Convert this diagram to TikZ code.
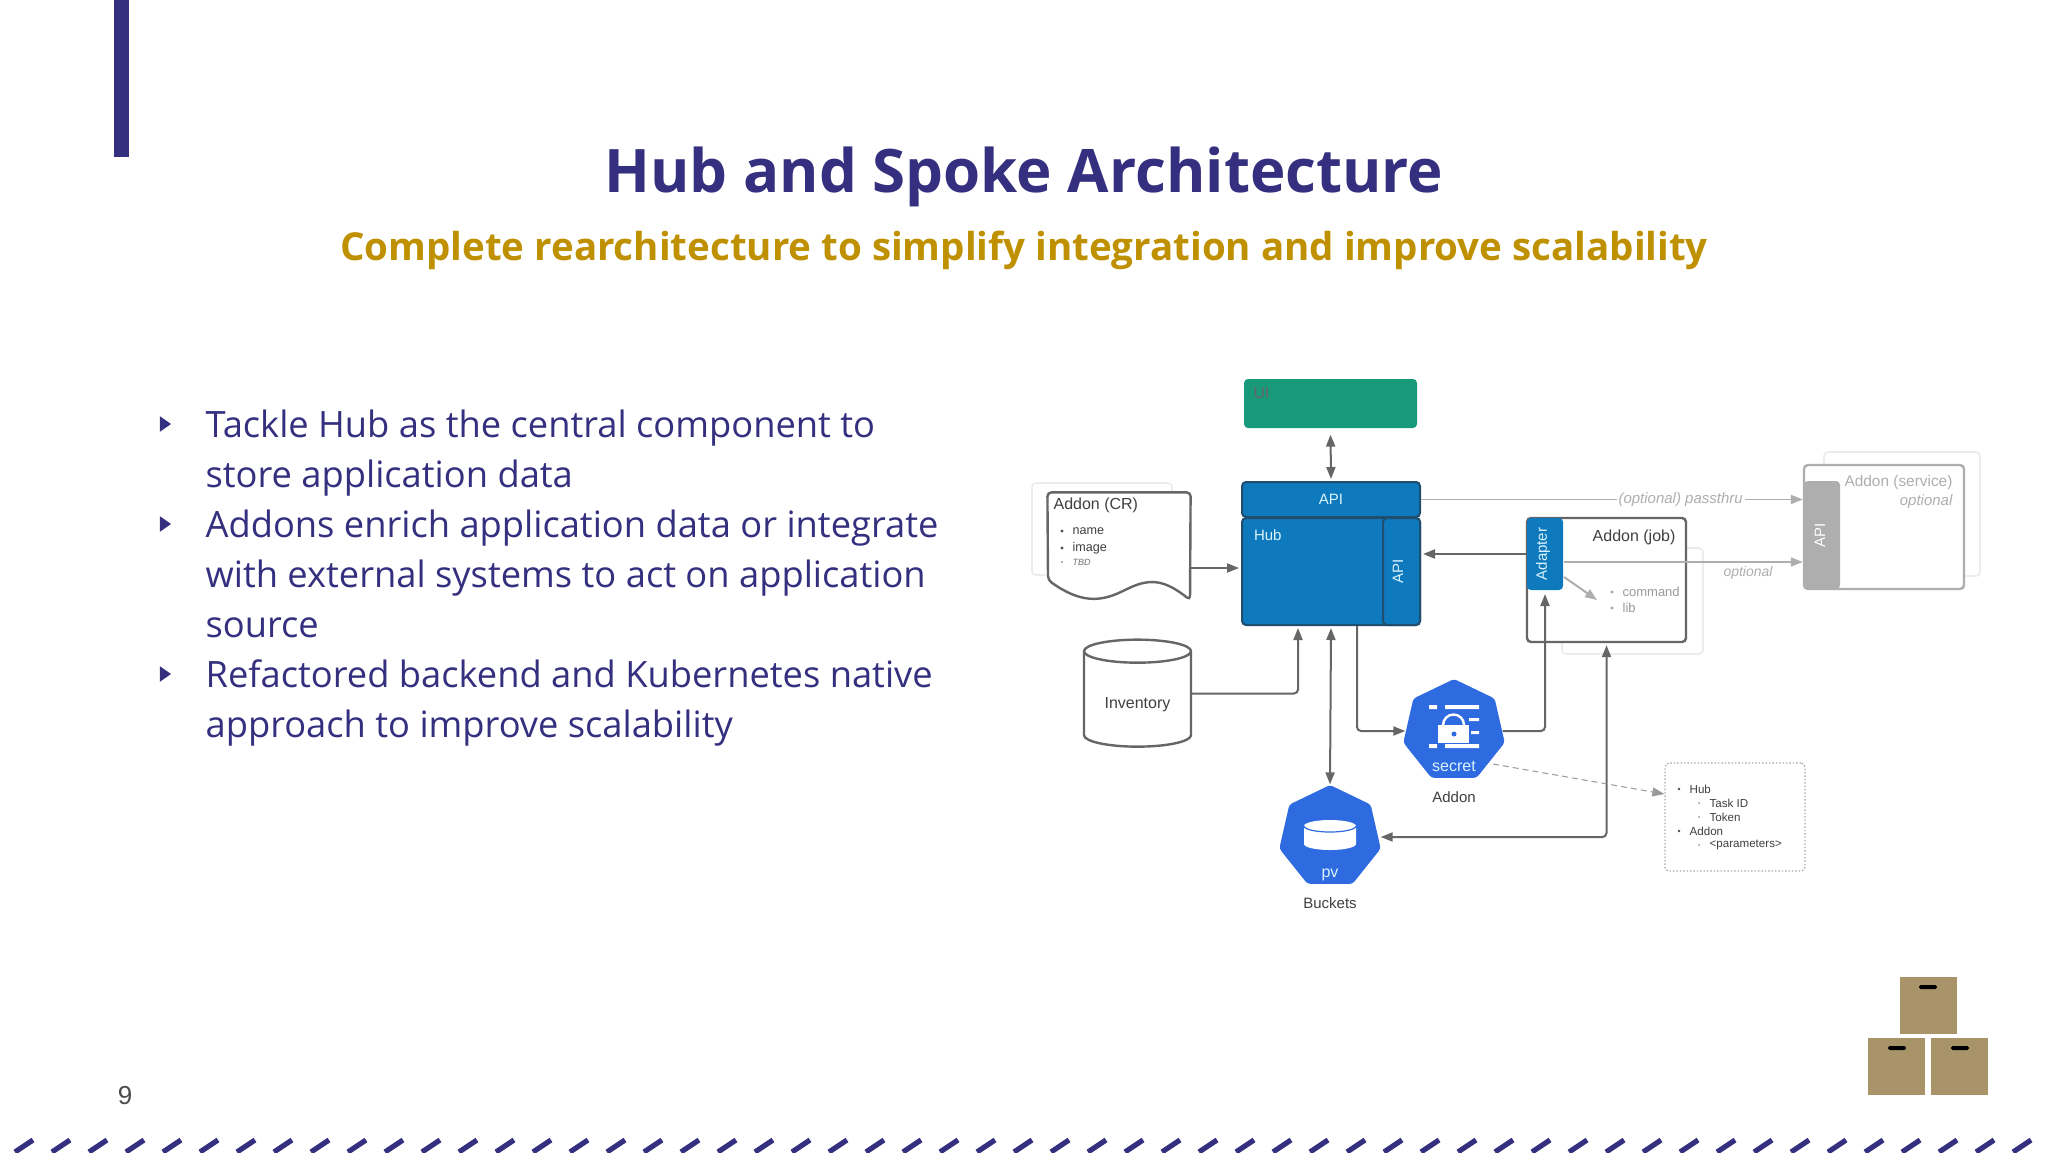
\documentclass[tikz,border=0pt]{standalone}
\usepackage{fontspec}
\setmainfont{Open Sans}
\newfontfamily\diagfont{Liberation Sans}
\usepackage{tikz}
\usetikzlibrary{positioning, calc, shapes, shapes.geometric, arrows, arrows.meta}
\definecolor{slideblue}{HTML}{34307F}
\definecolor{slidegold}{HTML}{BF9000}
\definecolor{hubblue}{HTML}{0F79BD}
\definecolor{hubedge}{HTML}{1F4E6E}
\definecolor{uigreen}{HTML}{18997A}
\definecolor{kubeblue}{HTML}{2F6BE0}
\definecolor{wire}{HTML}{666666}
\definecolor{paleline}{HTML}{AEAEAE}
\definecolor{shadowline}{HTML}{ECECEC}
\definecolor{boxtan}{HTML}{A89468}
\newcommand{\fsz}[1]{\fontsize{#1}{1.2\dimexpr#1\relax}\selectfont}

\begin{document}
\begin{tikzpicture}[x=.5pt,y=-.5pt,>={Stealth[length=6pt,width=4.5pt,inset=0pt]},semithick,
  diag/.style={font=\diagfont\fsz{8pt}, text=black!75, inner sep=0pt},
  bluebox/.style={draw=hubedge, line width=1pt, fill=hubblue, rounded corners=2pt, inner sep=0pt, text=white!85!cyan, font=\diagfont\fsz{7.5pt}},
  addonbox/.style={draw=wire, line width=1.2pt, fill=white, rounded corners=2pt, inner sep=0pt},
  palebox/.style={draw=paleline, line width=1.2pt, fill=white, rounded corners=2pt, inner sep=0pt},
  shadowbox/.style={draw=shadowline, line width=.8pt, rounded corners=2pt, inner sep=0pt, minimum width=70pt},
  kube/.style={regular polygon, regular polygon sides=7, minimum size=52pt, inner sep=0pt, fill=kubeblue, rounded corners=1.5pt},
  kubelabel/.style={diag, text=white!85!cyan},
  wired/.style={color=wire, line width=1pt, rounded corners=2pt},
  paled/.style={color=paleline, line width=.8pt},
  bodytext/.style={anchor=north west, align=left, inner sep=0pt, text=slideblue, font=\fontsize{18.14pt}{25pt}\selectfont},
  tick/.style={isosceles triangle, isosceles triangle apex angle=70, fill=slideblue, inner sep=0pt, minimum height=5.5pt, minimum width=6pt},
  crate/.style={fill=boxtan, inner sep=0pt, minimum width=28.5pt, minimum height=28.5pt},
  cratehandle/.style={fill=black, inner sep=0pt, minimum width=9pt, minimum height=2pt, rounded corners=.8pt},
  ]
  \useasboundingbox[fill=white] (0,0) rectangle (2048,1152);

  % slide furniture
  \node[fill=slideblue, inner sep=0pt, minimum width=7.5pt, minimum height=78.5pt] (bar) at (121.5,78.5) {};
  \node[text=slideblue, inner sep=0pt, font=\bfseries\fsz{30pt}] (title) at (1024,177) {Hub and Spoke Architecture};
  \node[text=slidegold, inner sep=0pt, font=\bfseries\fsz{19.25pt}] (subtitle) at (1024,250) {Complete rearchitecture to simplify integration and improve scalability};
  \node[inner sep=0pt, text=black!70, font=\diagfont\fsz{13pt}] (pageno) at (125,1096) {9};
  \foreach \i in {0,...,55}
    \draw[slideblue, line width=2.6pt] ({15+37*\i},1152) -- ({33+37*\i},1140);

  % bullets
  \node[tick] (tick1) at (164,424) {};
  \node[tick] (tick2) at (164,524) {};
  \node[tick] (tick3) at (164,674) {};
  \node[bodytext] (item1) at (205,409) {Tackle Hub as the central component to\\store application data};
  \node[bodytext] (item2) at (205,509) {Addons enrich application data or integrate\\with external systems to act on application\\source};
  \node[bodytext] (item3) at (205,659) {Refactored backend and Kubernetes native\\approach to improve scalability};

  % diagram boxes
  \node[fill=uigreen, rounded corners=2pt, inner sep=0pt, minimum width=86.5pt, minimum height=24.5pt] (ui) at (1330.5,403.5) {};
  \node[diag, text=black!60, anchor=north west] (uitext) at (1253,387) {UI};
  \node[bluebox, minimum width=89pt, minimum height=17.5pt] (hubapi) at (1331,499.5) {API};
  \node[bluebox, minimum width=89pt, minimum height=53.5pt] (hub) at (1331,571.5) {};
  \node[bluebox, anchor=north west, draw=none, fill=none] (hubtext) at (1253,529) {Hub};
  \node[bluebox, minimum width=18.5pt, minimum height=53.5pt] (hubside) at (1401.5,571.5) {};
  \node[bluebox, draw=none, fill=none, rotate=90] (hubsidetext) at (1398,571) {API};

  \node[shadowbox, minimum width=70pt, minimum height=46pt] (crshadow) at (1102,529) {};
  \node[inner sep=0pt, minimum width=71pt, minimum height=53.5pt] (addoncr) at (1119,546.5) {};
  \draw[addonbox, fill=white] (addoncr.north west) -- (addoncr.north east) -- (1190,600)
    .. controls (1165,580) and (1150,578) .. (1125,590)
    .. controls (1100,602) and (1080,603) .. (1048,580) -- cycle;
  \node[diag, anchor=west, font=\diagfont\fsz{8pt}] (crtext) at (1053,505) {Addon (CR)};
  \node[diag, anchor=west, font=\diagfont\fsz{6.3pt}] (crname) at (1072,531) {name};
  \node[diag, anchor=west, font=\diagfont\fsz{6.3pt}] (crimage) at (1072,548) {image};
  \node[diag, anchor=west, text=black!55, font=\diagfont\itshape\fsz{4.5pt}] (crtbd) at (1072,562) {TBD};
  \fill[black!70] (1062,531) circle (1.6) (1062,548) circle (1.6);
  \fill[black!40] (1062,562) circle (1.2);

  \node[draw=wire, line width=1.2pt, fill=white, cylinder, shape border rotate=90, aspect=.35, inner sep=0pt, minimum width=53.5pt, minimum height=53.5pt, diag] (inventory) at (1137.5,699.5) {\raisebox{-4.5pt}[0pt][0pt]{Inventory}};

  \node[shadowbox, minimum width=70.5pt, minimum height=53pt] (jobshadow) at (1632.5,601) {};
  \node[addonbox, minimum width=79.5pt, minimum height=62pt] (addonjob) at (1606.5,580) {};
  \node[bluebox, minimum width=18pt, minimum height=36pt, draw=none] (adapter) at (1545,554) {};
  \node[bluebox, draw=none, fill=none, rotate=90] (adaptertext) at (1543,554) {Adapter};
  \node[diag, anchor=east] (jobtext) at (1676,537) {Addon (job)};
  \node[diag, anchor=west, text=black!40, font=\diagfont\fsz{6.5pt}] (jobcmd) at (1622,592) {command};
  \node[diag, anchor=west, text=black!40, font=\diagfont\fsz{6.5pt}] (joblib) at (1622,608) {lib};
  \fill[black!35] (1612,592) circle (1.6) (1612,608) circle (1.6);

  \node[shadowbox, minimum width=78pt, minimum height=62pt] (svcshadow) at (1902,514) {};
  \node[palebox, minimum width=80pt, minimum height=62pt] (addonsvc) at (1884,527) {};
  \node[fill=paleline, rounded corners=2pt, inner sep=0pt, minimum width=18pt, minimum height=54pt] (svcapi) at (1822,535) {};
  \node[inner sep=0pt, rotate=90, text=white, font=\diagfont\fsz{7.5pt}] (svcapitext) at (1820,535) {API};
  \node[diag, anchor=east, text=paleline, font=\diagfont\fsz{7.7pt}] (svctext) at (1953,483) {Addon (service)};
  \node[diag, anchor=east, text=paleline, font=\diagfont\itshape\fsz{7.5pt}] (svcopt) at (1953,502) {optional};

  % kubernetes objects
  \node[kube] (secret) at (1454,731) {};
  \node[kubelabel] (secrettext) at (1454,766) {secret};
  \node[diag, font=\diagfont\fsz{7.5pt}] (secretname) at (1454,797) {Addon};
  \begin{scope}[shift={(secret.center)}]
    \fill[white] (-25,-26) rectangle (-17,-22) (-9,-26) rectangle (25,-22)
      (15,-13) rectangle (25,-10) (17,0) rectangle (25,3)
      (-25,13) rectangle (-17,17) (-9,13) rectangle (25,17);
    \fill[white] (-16,-6) rectangle (15,12);
    \draw[white, line width=1.2pt] (-11,-6) arc (180:360:10.5);
    \fill[kubeblue] (0,3) circle (2.5);
  \end{scope}
  \node[kube] (pv) at (1330,837) {};
  \node[kubelabel] (pvtext) at (1330,875) {pv};
  \node[diag, font=\diagfont\fsz{7.5pt}] (pvname) at (1330,903) {Buckets};
  \begin{scope}[shift={(pv.center)}]
    \fill[white] (-26,-11) arc (180:360:26 and 6) -- (26,7) arc (0:180:26 and 6) -- cycle;
    \draw[kubeblue, line width=.6pt] (-26,-11) arc (180:0:26 and 6);
  \end{scope}

  % note
  \node[draw=black!35, densely dotted, line width=.7pt, rounded corners=2pt, inner sep=0pt, minimum width=70pt, minimum height=54pt] (note) at (1735,817) {};
  \begin{scope}[every node/.style={diag, anchor=west, font=\diagfont\fsz{5.8pt}}]
    \node (notehub) at (1689,789) {Hub};
    \node (notetask) at (1709,803) {Task ID};
    \node (notetoken) at (1709,817) {Token};
    \node (noteaddon) at (1689,831) {Addon};
    \node (noteparam) at (1709,845) {<parameters>};
  \end{scope}
  \fill[black!70] (1679,789) circle (1.3) (1679,831) circle (1.3);
  \fill[black!40] (1699,803) circle (1) (1699,817) circle (1) (1699,845) circle (1);

  % logo
  \node[crate] (crate1) at (1928.5,1005.5) {};
  \node[crate] (crate2) at (1896.5,1066) {};
  \node[crate] (crate3) at (1959.5,1066) {};
  \node[cratehandle] (handle1) at (1928,987) {};
  \node[cratehandle] (handle2) at (1897,1048) {};
  \node[cratehandle] (handle3) at (1960,1048) {};

  % connectors
  \coordinate (listtip) at (1597,600);
  \path[wired]
    ([yshift=-3pt]ui.south) edge[<->] ([yshift=1pt]hubapi.north)
    ([yshift=-10.75pt]addoncr.east) edge[->] ([xshift=-1pt,yshift=1.75pt]hub.west)
    (adapter.west) edge[->] ([xshift=1pt]adapter.west -| hub.east)
    ;
  \draw[wired,->] ([xshift=13pt]hub.south) |- (secret.west);
  \draw[wired,->] (secret.east) -| ([yshift=-1.5pt]adapter.south);
  \draw[wired,->] ([yshift=3pt]inventory.east) -| ([xshift=-16.5pt,yshift=-1pt]hub.south);
  \draw[wired,<->] ([yshift=-1pt]hub.south) -- (pv.north);
  \draw[wired,<->] ([yshift=-1pt]addonjob.south) |- ([xshift=1pt]pv.east);
  \path[paled]
    (hubapi.east) edge[->] node[fill=white, inner sep=1pt, text=paleline, font=\diagfont\itshape\fsz{7.5pt}, pos=.68] (passthru) {(optional) passthru} (hubapi.east -| addonsvc.west)
    ([yshift=-4pt]adapter.east) edge[->] ([yshift=-4pt]adapter.east -| addonsvc.west)
    ([yshift=-11.5pt]adapter.east) edge[->,line width=1pt] (listtip)
    ([xshift=19.5pt,yshift=-16.5pt]secret.center) edge[->,densely dashed,color=black!40,line width=.5pt] ([yshift=11.5pt]note.west)
    ;
  \node[diag, text=paleline, font=\diagfont\itshape\fsz{7pt}] (opttext) at (1748,573) {optional};
\end{tikzpicture}
\end{document}
